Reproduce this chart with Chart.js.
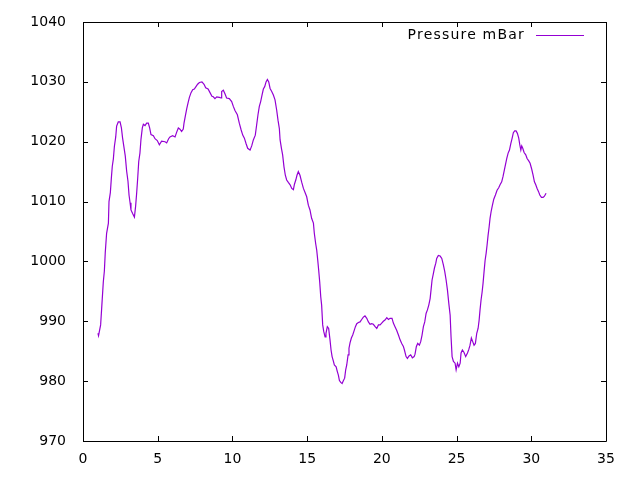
<!DOCTYPE html>
<html>
<head>
<meta charset="utf-8">
<script src="https://cdn.jsdelivr.net/npm/chart.js@4/dist/chart.umd.min.js"></script>
<style>
  html, body { margin: 0; padding: 0; background: #fff; }
  #chart { display: block; }
</style>
</head>
<body>
<canvas id="chart" width="640" height="480"></canvas>
<script>
// pressure readings (day of month, mBar)
var days = [
  1.00, 1.04, 1.18, 1.25, 1.36, 1.43, 1.49, 1.58, 1.70, 1.74, 1.83, 1.90, 1.96, 2.03, 2.10, 2.19,
  2.25, 2.36, 2.48, 2.57, 2.65, 2.74, 2.83, 2.92, 3.01, 3.08, 3.15, 3.21, 3.32, 3.44, 3.52, 3.59,
  3.66, 3.73, 3.81, 3.88, 3.97, 4.04, 4.15, 4.26, 4.37, 4.46, 4.55, 4.71, 4.82, 4.97, 5.11, 5.26,
  5.49, 5.60, 5.73, 5.82, 6.00, 6.16, 6.27, 6.38, 6.49, 6.60, 6.71, 6.76, 6.85, 6.94, 7.03, 7.12,
  7.23, 7.34, 7.45, 7.56, 7.67, 7.79, 7.96, 8.10, 8.21, 8.37, 8.50, 8.63, 8.72, 8.83, 8.95, 9.12,
  9.24, 9.28, 9.39, 9.50, 9.61, 9.79, 9.95, 10.06, 10.17, 10.33, 10.46, 10.58, 10.69, 10.80, 10.91, 11.02,
  11.18, 11.29, 11.40, 11.53, 11.62, 11.71, 11.80, 11.89, 11.98, 12.07, 12.16, 12.25, 12.34, 12.43, 12.52, 12.63,
  12.74, 12.85, 12.96, 13.05, 13.14, 13.19, 13.28, 13.36, 13.45, 13.54, 13.63, 13.74, 13.86, 13.97, 14.08, 14.15,
  14.24, 14.32, 14.41, 14.52, 14.64, 14.75, 14.86, 14.97, 15.08, 15.19, 15.30, 15.42, 15.48, 15.57, 15.64, 15.71,
  15.77, 15.84, 15.91, 15.97, 16.04, 16.11, 16.20, 16.26, 16.35, 16.44, 16.53, 16.60, 16.67, 16.76, 16.82, 16.94,
  17.02, 17.09, 17.16, 17.25, 17.34, 17.43, 17.51, 17.58, 17.65, 17.74, 17.80, 17.87, 17.96, 18.05, 18.14, 18.23,
  18.32, 18.43, 18.54, 18.65, 18.76, 18.87, 18.99, 19.10, 19.21, 19.32, 19.43, 19.55, 19.66, 19.77, 19.88, 19.99,
  20.10, 20.21, 20.33, 20.44, 20.55, 20.68, 20.77, 20.88, 20.99, 21.11, 21.22, 21.33, 21.44, 21.51, 21.62, 21.71,
  21.82, 21.93, 22.04, 22.16, 22.22, 22.31, 22.40, 22.51, 22.60, 22.69, 22.78, 22.87, 22.96, 23.05, 23.14, 23.23,
  23.29, 23.36, 23.45, 23.52, 23.61, 23.67, 23.78, 23.90, 24.01, 24.12, 24.21, 24.30, 24.39, 24.48, 24.57, 24.63,
  24.70, 24.79, 24.90, 24.97, 25.06, 25.15, 25.24, 25.30, 25.39, 25.50, 25.61, 25.73, 25.82, 25.90, 25.99, 26.08,
  26.17, 26.26, 26.35, 26.44, 26.51, 26.57, 26.64, 26.71, 26.77, 26.84, 26.91, 26.98, 27.04, 27.11, 27.18, 27.24,
  27.31, 27.40, 27.49, 27.60, 27.71, 27.82, 27.91, 28.02, 28.11, 28.20, 28.29, 28.36, 28.45, 28.54, 28.63, 28.72,
  28.80, 28.89, 28.98, 29.07, 29.16, 29.23, 29.30, 29.36, 29.43, 29.52, 29.63, 29.72, 29.83, 29.92, 30.03, 30.12,
  30.21, 30.30, 30.39, 30.48, 30.57, 30.68, 30.79, 30.88, 30.99
];
var pressure = [
  988.0, 987.6, 989.4, 992.2, 996.6, 998.4, 1001.5, 1004.7, 1006.4, 1010.0, 1011.5, 1014.0, 1015.9, 1017.1, 1019.2, 1020.8,
  1022.6, 1023.3, 1023.3, 1022.3, 1020.6, 1019.1, 1017.6, 1015.1, 1013.4, 1011.1, 1009.8, 1008.6, 1008.0, 1007.4, 1009.2, 1011.4,
  1013.9, 1016.7, 1018.1, 1020.4, 1022.3, 1022.9, 1022.7, 1023.1, 1023.1, 1022.3, 1021.2, 1021.0, 1020.5, 1020.2, 1019.5, 1020.1,
  1020.0, 1019.8, 1020.5, 1020.8, 1021.0, 1020.8, 1021.6, 1022.3, 1022.1, 1021.7, 1022.1, 1023.1, 1024.3, 1025.5, 1026.5, 1027.4,
  1028.2, 1028.7, 1028.8, 1029.2, 1029.6, 1029.9, 1030.0, 1029.6, 1029.0, 1028.8, 1028.2, 1027.6, 1027.5, 1027.2, 1027.5, 1027.4,
  1027.3, 1028.4, 1028.6, 1028.0, 1027.3, 1027.2, 1026.7, 1025.9, 1025.2, 1024.5, 1023.1, 1022.0, 1021.1, 1020.6, 1019.7, 1018.9,
  1018.6, 1019.3, 1020.3, 1021.1, 1022.8, 1024.5, 1025.9, 1026.7, 1027.8, 1028.8, 1029.2, 1030.0, 1030.4, 1030.0, 1028.9, 1028.4,
  1027.8, 1027.0, 1025.3, 1023.6, 1022.2, 1020.3, 1018.9, 1017.8, 1015.8, 1014.4, 1013.6, 1013.2, 1012.8, 1012.2, 1012.0, 1012.9,
  1013.6, 1014.4, 1015.0, 1014.4, 1013.2, 1012.2, 1011.5, 1010.8, 1009.4, 1008.6, 1007.2, 1006.4, 1004.7, 1003.0, 1001.9, 1000.2,
  998.6, 996.6, 994.1, 992.7, 989.4, 988.3, 987.4, 988.0, 989.1, 988.8, 986.9, 985.2, 984.1, 983.3, 982.7, 982.4,
  981.6, 981.0, 980.1, 979.8, 979.6, 980.1, 980.5, 981.9, 982.7, 984.4, 985.5, 986.4, 987.2, 987.7, 988.4, 989.1,
  989.6, 989.8, 989.9, 990.3, 990.7, 990.9, 990.5, 989.9, 989.5, 989.6, 989.5, 989.1, 988.8, 989.4, 989.4, 989.7,
  990.0, 990.2, 990.6, 990.3, 990.5, 990.5, 989.7, 989.1, 988.5, 987.7, 986.9, 986.3, 985.8, 985.2, 984.1, 983.8,
  984.2, 984.4, 983.9, 984.1, 984.5, 985.8, 986.3, 986.0, 986.6, 987.7, 989.1, 989.9, 991.3, 991.9, 992.7, 993.8,
  995.2, 996.9, 998.0, 998.9, 999.7, 1000.5, 1001.0, 1000.9, 1000.5, 999.4, 998.3, 996.9, 995.2, 993.0, 991.0, 987.4,
  984.1, 983.3, 983.0, 981.9, 983.0, 982.4, 983.0, 984.7, 985.2, 984.8, 984.1, 984.7, 985.3, 986.0, 987.2, 986.6,
  986.0, 986.3, 988.0, 988.8, 990.2, 991.9, 993.6, 994.9, 996.3, 998.3, 1000.2, 1001.4, 1002.7, 1004.4, 1005.8, 1007.2,
  1008.3, 1009.4, 1010.4, 1011.1, 1011.9, 1012.3, 1012.8, 1013.3, 1014.2, 1015.3, 1016.4, 1017.2, 1018.1, 1018.6, 1019.7, 1020.6,
  1021.5, 1021.8, 1021.8, 1021.4, 1020.6, 1019.5, 1018.6, 1019.3, 1018.9, 1018.2, 1017.8, 1017.2, 1016.8, 1016.4, 1015.4, 1014.4,
  1013.3, 1012.8, 1012.2, 1011.7, 1011.1, 1010.7, 1010.7, 1010.9, 1011.4
];
var seriesLabel = "Pressure mBar";
var seriesColor = "#9400d3";
var xTicks = [0, 5, 10, 15, 20, 25, 30, 35];
var yTicks = [970, 980, 990, 1000, 1010, 1020, 1030, 1040];

var fontFamily = "'DejaVu Sans', sans-serif";

// frame, inward ticks on all four sides, and key in the top right (gnuplot style)
var framePlugin = {
  id: 'frame',
  afterDraw: function(chart) {
    var ctx = chart.ctx, a = chart.chartArea;
    var xs = chart.scales.x, ys = chart.scales.y;
    var t = 5;
    ctx.save();
    ctx.strokeStyle = '#000';
    ctx.lineWidth = 1;
    ctx.beginPath();
    ctx.rect(Math.round(a.left) + 0.5, Math.round(a.top) + 0.5,
             Math.round(a.right - a.left), Math.round(a.bottom - a.top));
    xTicks.forEach(function(v) {
      var px = Math.round(xs.getPixelForValue(v)) + 0.5;
      ctx.moveTo(px, a.bottom); ctx.lineTo(px, a.bottom - t);
      ctx.moveTo(px, a.top); ctx.lineTo(px, a.top + t);
    });
    yTicks.forEach(function(v) {
      var py = Math.round(ys.getPixelForValue(v)) + 0.5;
      ctx.moveTo(a.left, py); ctx.lineTo(a.left + t, py);
      ctx.moveTo(a.right, py); ctx.lineTo(a.right - t, py);
    });
    ctx.stroke();

    // key
    ctx.font = '14px ' + fontFamily;
    ctx.fillStyle = '#000';
    ctx.textAlign = 'right';
    ctx.textBaseline = 'middle';
    if ('letterSpacing' in ctx) ctx.letterSpacing = '1.2px';
    ctx.fillText(seriesLabel, 525, 35);
    if ('letterSpacing' in ctx) ctx.letterSpacing = '0px';
    ctx.strokeStyle = seriesColor;
    ctx.beginPath();
    ctx.moveTo(536, 35.5); ctx.lineTo(584, 35.5);
    ctx.stroke();
    ctx.restore();
  }
};

var bgPlugin = {
  id: 'bg',
  beforeDraw: function(chart) {
    var ctx = chart.ctx;
    ctx.save();
    ctx.fillStyle = '#fff';
    ctx.fillRect(0, 0, chart.width, chart.height);
    ctx.restore();
  }
};

var points = days.map(function(d, i) { return { x: d, y: pressure[i] }; });

new Chart(document.getElementById('chart').getContext('2d'), {
  type: 'line',
  data: {
    datasets: [{
      label: seriesLabel,
      data: points,
      borderColor: seriesColor,
      borderWidth: 1.2,
      pointRadius: 0,
      tension: 0,
      fill: false
    }]
  },
  options: {
    responsive: false,
    animation: false,
    devicePixelRatio: 1,
    layout: { padding: { left: 0, right: 34, top: 22, bottom: 0 } },
    plugins: { legend: { display: false }, tooltip: { enabled: false } },
    scales: {
      x: {
        type: 'linear',
        min: 0, max: 35,
        afterFit: function(s) { s.height = 39; s.paddingLeft = 0; s.paddingRight = 0; },
        afterBuildTicks: function(s) { s.ticks = xTicks.map(function(v) { return { value: v }; }); },
        grid: { display: false, drawTicks: false },
        border: { display: false },
        ticks: {
          padding: 10,
          color: '#000',
          font: { family: fontFamily, size: 14 },
          maxRotation: 0,
          callback: function(v) { return String(v); }
        }
      },
      y: {
        min: 970, max: 1040,
        afterFit: function(s) { s.width = 83; s.paddingTop = 0; s.paddingBottom = 0; },
        afterBuildTicks: function(s) { s.ticks = yTicks.map(function(v) { return { value: v }; }); },
        grid: { display: false, drawTicks: false },
        border: { display: false },
        ticks: {
          padding: 17,
          color: '#000',
          font: { family: fontFamily, size: 14 },
          callback: function(v) { return String(v); }
        }
      }
    }
  },
  plugins: [bgPlugin, framePlugin]
});
</script>
</body>
</html>
